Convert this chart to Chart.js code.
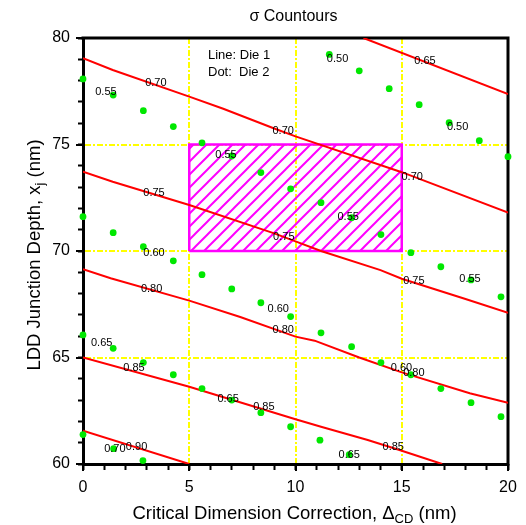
<!DOCTYPE html>
<html><head><meta charset="utf-8">
<script src="https://cdn.jsdelivr.net/npm/chart.js@4.4.1/dist/chart.umd.min.js"></script>
<style>html,body{margin:0;padding:0;background:#fff;}</style>
</head><body>
<canvas id="c" width="526" height="525"></canvas>
<script>
// ---------- data ----------
const chartTitle = 'σ Countours';
const xTitle = ['Critical Dimension Correction, Δ', 'CD', ' (nm)'];
const yTitle = ['LDD Junction Depth, x', 'j', ' (nm)'];
const legendLines = ['Line: Die 1', 'Dot:  Die 2'];
const xRange = [0, 20];
const yRange = [60, 80];
const gridMarksX = [5, 10, 15];
const gridMarksY = [65, 70, 75];
const specX = [5, 15];
const specY = [70, 75];

// Die 1 contour lines (sigma levels)
const c065 = [[13.2, 80], [20, 77.37]];
const c070 = [[0, 79.05], [1.4, 78.5], [5, 77.25], [6.6, 76.68], [9, 75.75], [10, 75.38], [15, 73.7], [20, 71.8]];
const c075 = [[0, 73.72], [1.4, 73.25], [5, 72.16], [9, 70.83], [10, 70.45], [11.2, 70.0], [14, 69.1], [15, 68.7], [18, 67.75], [20, 67.1]];
const c080 = [[0, 69.14], [1.3, 68.72], [5, 67.67], [7.4, 66.9], [10, 65.98], [10.9, 65.79], [13, 65.0], [15, 64.3], [18.2, 63.32], [20, 62.88]];
const c085 = [[0, 65.0], [5, 63.63], [10, 62.1], [11.2, 61.75], [13.4, 61.13], [15, 60.62], [16.9, 60.0]];
const c090 = [[0, 61.56], [5, 60.0]];

// Die 2 dots
const rowAx = [0, 1.42, 2.84, 4.25, 5.6, 7.0, 8.37, 9.77, 11.2, 12.64, 14.02, 15.43, 16.84, 18.26, 19.67];
const rowAy = [78.08, 77.32, 76.59, 75.84, 75.08, 74.46, 73.68, 72.92, 72.27, 71.56, 70.77, 69.92, 69.26, 68.64, 67.85];
const rowBx = [0, 1.42, 2.84, 4.25, 5.6, 7.0, 8.37, 9.77, 11.2, 12.64, 14.02, 15.43, 16.84, 18.26, 19.67];
const rowBy = [71.61, 70.86, 70.20, 69.54, 68.89, 68.22, 67.57, 66.92, 66.16, 65.51, 64.76, 64.19, 63.54, 62.88, 62.22];
const rowCx = [0, 1.42, 2.84, 4.25, 5.6, 7.0, 8.37, 9.77, 11.15, 12.53];
const rowCy = [66.06, 65.43, 64.76, 64.19, 63.54, 63.0, 62.41, 61.75, 61.12, 60.44];
const rowDx = [0, 1.44, 2.82];
const rowDy = [61.38, 60.72, 60.16];
const rowEx = [11.59, 13.0, 14.41, 15.82, 17.23, 18.65, 20.0];
const rowEy = [79.23, 78.46, 77.62, 76.87, 76.02, 75.18, 74.43];

// value labels
const labelText = ['0.70','0.70','0.75','0.75','0.65','0.70','0.75','0.80','0.80','0.80','0.85','0.85','0.85','0.90',
                   '0.55','0.55','0.55','0.55','0.50','0.50','0.60','0.60','0.60','0.65','0.65','0.65','0.70'];
const labelX = [3.43, 9.42, 3.34, 9.45, 16.09, 15.49, 15.57, 3.23, 9.42, 15.57, 2.4, 8.51, 14.6, 2.52,
                1.08, 6.73, 12.48, 18.21, 11.98, 17.63, 3.34, 9.19, 14.99, 0.88, 6.83, 12.53, 1.5];
const labelY = [77.87, 75.63, 72.71, 70.67, 78.92, 73.49, 68.59, 68.2, 66.29, 64.29, 64.49, 62.66, 60.78, 60.78,
                77.48, 74.49, 71.61, 68.69, 79.01, 75.82, 69.89, 67.28, 64.49, 65.67, 63.05, 60.44, 60.72];

// ---------- styles ----------
const FONT = '"Liberation Sans", Arial, Helvetica, sans-serif';
const RED = '#ff0000', GREEN = '#00e800', YELLOW = '#ffff00', MAGENTA = '#ff00ff';

const pts = arr => arr.map(p => ({x: p[0], y: p[1]}));
const zipPts = (xs, ys) => xs.map((x, i) => ({x, y: ys[i]}));

function makeHatch() {
  const s = 13;
  const c = document.createElement('canvas');
  c.width = s; c.height = s;
  const g = c.getContext('2d');
  g.strokeStyle = MAGENTA; g.lineWidth = 2;
  g.beginPath();
  g.moveTo(-1, s + 1); g.lineTo(s + 1, -1);
  g.moveTo(-3, 3); g.lineTo(3, -3);
  g.moveTo(s - 3, s + 3); g.lineTo(s + 3, s - 3);
  g.stroke();
  return g.createPattern(c, 'repeat');
}

const rectPts = [
  {x: specX[0], y: specY[0]}, {x: specX[0], y: specY[1]},
  {x: specX[1], y: specY[1]}, {x: specX[1], y: specY[0]}, {x: specX[0], y: specY[0]}
];

const lineDs = data => ({data: pts(data), showLine: true, borderColor: RED, borderWidth: 2,
  pointRadius: 0, tension: 0, fill: false, order: 2, xAxisID: 'x', yAxisID: 'y'});
const dotDs = (xs, ys) => ({data: zipPts(xs, ys), showLine: false, backgroundColor: GREEN,
  borderWidth: 0, pointRadius: 3.4, pointHoverRadius: 3.4, clip: false, order: 1, xAxisID: 'x', yAxisID: 'y'});

const gridColor = c => (c.tick && (gridMarksX.includes(c.tick.value))) ? YELLOW : 'rgba(0,0,0,0)';
const gridColorY = c => (c.tick && (gridMarksY.includes(c.tick.value))) ? YELLOW : 'rgba(0,0,0,0)';

const framePlugin = {
  id: 'frame',
  beforeDatasetsDraw(chart) {
    const {ctx, chartArea: a} = chart;
    ctx.save();
    ctx.strokeStyle = '#000'; ctx.lineWidth = 3; ctx.lineCap = 'square';
    ctx.beginPath();
    ctx.moveTo(a.left, a.top); ctx.lineTo(a.right, a.top); ctx.lineTo(a.right, a.bottom);
    ctx.stroke();
    ctx.restore();
  }
};

const textPlugin = {
  id: 'texts',
  afterDatasetsDraw(chart) {
    const {ctx, scales: {x, y}, chartArea: a} = chart;
    ctx.save();
    ctx.fillStyle = '#000';
    ctx.font = '11px ' + FONT;
    ctx.textAlign = 'center'; ctx.textBaseline = 'middle';
    labelText.forEach((t, i) => ctx.fillText(t, x.getPixelForValue(labelX[i]), y.getPixelForValue(labelY[i])));
    // legend note
    ctx.font = '13px ' + FONT;
    ctx.textAlign = 'left';
    ctx.fillText(legendLines[0], a.left + 125, a.top + 17);
    ctx.fillText(legendLines[1], a.left + 125, a.top + 34.5);
    ctx.restore();
  },
  afterDraw(chart) {
    const {ctx, chartArea: a} = chart;
    ctx.save();
    ctx.fillStyle = '#000';
    // title
    ctx.font = '16px ' + FONT;
    ctx.textAlign = 'center'; ctx.textBaseline = 'middle';
    ctx.fillText(chartTitle, (a.left + a.right) / 2 - 2, 17);
    // titles with subscript
    const drawSub = (parts, cx, by) => {
      ctx.textAlign = 'left'; ctx.textBaseline = 'alphabetic';
      const big = '18.5px ' + FONT, small = '13px ' + FONT;
      ctx.font = big; const w0 = ctx.measureText(parts[0]).width; const w2 = ctx.measureText(parts[2]).width;
      ctx.font = small; const w1 = ctx.measureText(parts[1]).width;
      let sx = cx - (w0 + w1 + w2) / 2;
      ctx.font = big; ctx.fillText(parts[0], sx, by); sx += w0;
      ctx.font = small; ctx.fillText(parts[1], sx, by + 4); sx += w1;
      ctx.font = big; ctx.fillText(parts[2], sx, by);
    };
    drawSub(xTitle, (a.left + a.right) / 2 - 1, 519);
    ctx.translate(39.5, (a.top + a.bottom) / 2 + 4);
    ctx.rotate(-Math.PI / 2);
    drawSub(yTitle, 0, 0);
    ctx.restore();
  }
};

new Chart(document.getElementById('c'), {
  type: 'scatter',
  data: {
    datasets: [
      {data: rectPts, showLine: true, borderColor: MAGENTA, borderWidth: 2.5, backgroundColor: makeHatch(),
       fill: 'shape', pointRadius: 0, tension: 0, borderJoinStyle: 'miter', order: 3, xAxisID: 'x', yAxisID: 'y'},
      lineDs(c065), lineDs(c070), lineDs(c075), lineDs(c080), lineDs(c085), lineDs(c090),
      dotDs(rowAx, rowAy), dotDs(rowBx, rowBy), dotDs(rowCx, rowCy), dotDs(rowDx, rowDy), dotDs(rowEx, rowEy)
    ]
  },
  options: {
    responsive: false, animation: false,
    events: [],
    layout: {padding: {left: 0, right: 18, top: 38, bottom: 0}},
    plugins: {legend: {display: false}, tooltip: {enabled: false}, title: {display: false}},
    scales: {
      x: {type: 'linear', position: 'bottom', min: xRange[0], max: xRange[1],
        afterFit: s => { s.height = 61; },
        ticks: {stepSize: 5, color: '#000', font: {family: FONT, size: 16}, padding: 7, maxRotation: 0, autoSkip: false},
        grid: {color: gridColor, lineWidth: 2, tickColor: '#000', tickWidth: 2, tickLength: 7, drawOnChartArea: true},
        border: {display: true, color: '#000', width: 3, dash: [6, 2, 2, 2]}
      },
      y: {type: 'linear', position: 'left', min: yRange[0], max: yRange[1],
        afterFit: s => { s.width = 83; },
        ticks: {stepSize: 5, color: '#000', font: {family: FONT, size: 16}, padding: 6, autoSkip: false},
        grid: {color: gridColorY, lineWidth: 2, tickColor: '#000', tickWidth: 2, tickLength: 7, drawOnChartArea: true},
        border: {display: true, color: '#000', width: 3, dash: [6, 2, 2, 2]}
      },
      xm: {type: 'linear', axis: 'x', position: {y: yRange[0]}, min: xRange[0], max: xRange[1],
        ticks: {stepSize: 1, display: false, autoSkip: false},
        grid: {drawOnChartArea: false, tickLength: 6, tickColor: '#000', tickWidth: 2},
        border: {display: false}
      },
      ym: {type: 'linear', axis: 'y', position: {x: xRange[0]}, min: yRange[0], max: yRange[1],
        ticks: {stepSize: 1, display: false, autoSkip: false},
        grid: {drawOnChartArea: false, tickLength: 5, tickColor: '#000', tickWidth: 2},
        border: {display: false}
      }
    }
  },
  plugins: [framePlugin, textPlugin]
});
</script>
</body></html>
